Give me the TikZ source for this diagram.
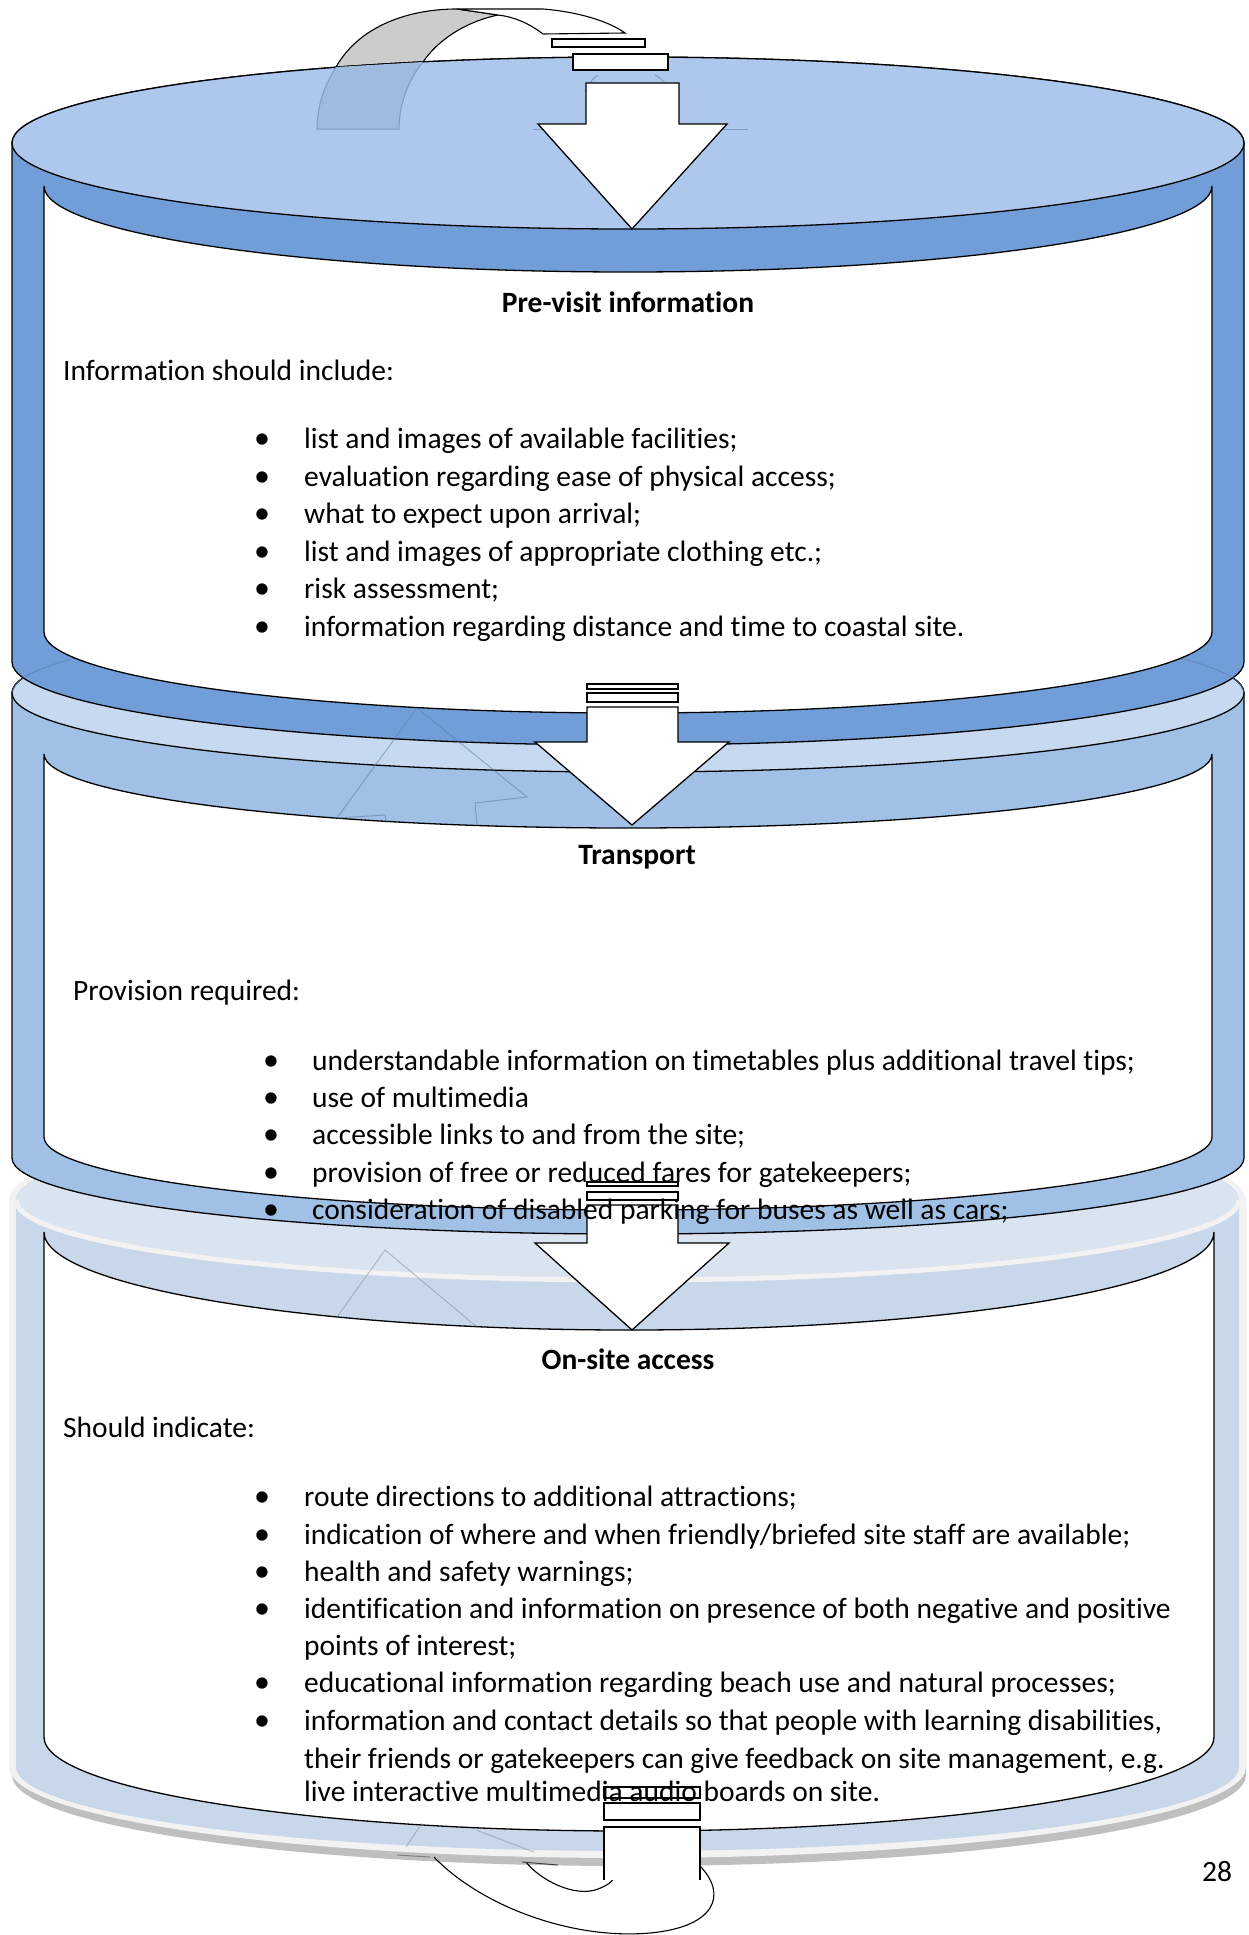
\documentclass[tikz,border=0pt]{standalone}
\usepackage{fontspec}
\setmainfont[RawFeature={-liga}]{Carlito}
\definecolor{lOneTop}{HTML}{ADC8EC}
\definecolor{lOneBody}{HTML}{719ED8}
\definecolor{lTwoTop}{HTML}{C6D9F1}
\definecolor{lTwoBody}{HTML}{A0C0E6}
\definecolor{lThreeBody}{HTML}{C8D7EA}
\definecolor{lThreeTop}{HTML}{DAE3F0}
\definecolor{rimc}{HTML}{F2F2F2}
\definecolor{shadowc}{HTML}{BFBFBF}
\definecolor{arcgray}{HTML}{CCCCCC}
\definecolor{ghostline}{HTML}{5F7DA8}
\definecolor{ghostfill}{HTML}{9FBCE0}
\begin{document}
\begin{tikzpicture}[x=1pt,y=-1pt,line join=miter,
  outl/.style={draw=black,line width=1.3pt},
  thinl/.style={draw=black,line width=1.1pt},
  ghost/.style={draw=ghostline,draw opacity=0.55,line width=1pt},
  ghostgray/.style={draw=gray,draw opacity=0.45,line width=1pt},
  txt/.style={anchor=base west,inner sep=0pt,font=\fontsize{29.5}{37}\selectfont},
  ttl/.style={anchor=base,inner sep=0pt,font=\fontsize{29.5}{37}\selectfont\bfseries},
  bul/.style={anchor=base,inner sep=0pt,font=\fontsize{32}{37}\selectfont}]
\fill[white] (0,0) rectangle (1249,1935);
\useasboundingbox (0,0) rectangle (1249,1935);

% ---------------- Layer 3 (On-site access) ----------------
\path[fill=shadowc] (12,1207) -- (12,1775)
  arc[start angle=180,end angle=360,x radius=617pt,y radius=91pt]
  -- (1246,1207) arc[start angle=0,end angle=180,x radius=617pt,y radius=90pt] -- cycle;
\path[fill=rimc] (9,1200) -- (9,1767)
  arc[start angle=180,end angle=360,x radius=618.5pt,y radius=91pt]
  -- (1246,1200) arc[start angle=0,end angle=180,x radius=618.5pt,y radius=90pt] -- cycle;
\path[fill=lThreeBody] (16,1200) -- (16,1767)
  arc[start angle=180,end angle=360,x radius=611.5pt,y radius=84pt]
  -- (1239,1200) arc[start angle=0,end angle=180,x radius=611.5pt,y radius=83pt] -- cycle;
\path[fill=lThreeTop] (627.5,1200) ellipse[x radius=611.5pt,y radius=80pt];
\draw[rimc,line width=5pt] (16,1200) arc[start angle=180,end angle=360,x radius=611.5pt,y radius=80pt];
\path[fill=white,outl] (44,1232) -- (44,1737)
  arc[start angle=180,end angle=360,x radius=585pt,y radius=94pt]
  -- (1214,1232) arc[start angle=360,end angle=180,x radius=585pt,y radius=98pt] -- cycle;

% ---------------- Layer 2 (Transport) ----------------
\path[fill=lTwoBody,outl] (12,693) -- (12,1158)
  arc[start angle=180,end angle=360,x radius=616pt,y radius=76pt]
  -- (1244,693) arc[start angle=0,end angle=180,x radius=616pt,y radius=79pt] -- cycle;
\path[fill=lTwoTop,outl] (628,693) ellipse[x radius=616pt,y radius=79pt];
\path[fill=white,outl] (44,754) -- (44,1137)
  arc[start angle=180,end angle=360,x radius=584pt,y radius=73pt]
  -- (1212,754) arc[start angle=360,end angle=180,x radius=584pt,y radius=74pt] -- cycle;

% ---------------- top curved arrow (behind layer 1 top) ----------------
\path[fill=arcgray,thinl] (336,67) .. controls (360,25) and (410,9) .. (457,9)
  -- (498,15) .. controls (465,22) and (438,40) .. (423,62) -- cycle;
\path[fill=white,thinl] (457,9) -- (543,9) .. controls (580,12) and (610,22) .. (625,33)
  -- (543,34) .. controls (530,24) and (515,17) .. (498,15) -- cycle;

% ---------------- Layer 1 (Pre-visit information) ----------------
\path[fill=lOneBody,outl] (12,143) -- (12,662)
  arc[start angle=180,end angle=360,x radius=616pt,y radius=83pt]
  -- (1244,143) arc[start angle=0,end angle=180,x radius=616pt,y radius=86pt] -- cycle;
\path[fill=lOneTop,outl] (628,143) ellipse[x radius=616pt,y radius=86pt];
% ghost of layer 2 top seen through layer 1 band
\draw[draw=ghostline,draw opacity=0.6,line width=1pt] (12,693) arc[start angle=180,end angle=0,x radius=616pt,y radius=79pt];
\path[fill=white,outl] (44,186) -- (44,632)
  arc[start angle=180,end angle=360,x radius=584pt,y radius=81pt]
  -- (1212,186) arc[start angle=360,end angle=180,x radius=584pt,y radius=86pt] -- cycle;

% ghost shapes inside top ellipse
\path[fill=ghostfill,ghost] (336,67) .. controls (323,88) and (317,108) .. (317,129)
  -- (399,129) .. controls (399,105) and (408,80) .. (423,62);
\draw[ghost] (533,129) -- (748,129);
\draw[ghost] (585,92) .. controls (588,84) and (592,79) .. (598,75);
\draw[ghost] (655,75) .. controls (662,79) and (667,84) .. (670,92);

% ghost shapes in layer 2 band
\draw[ghost] (337,818) -- (417,708) -- (527,797) -- (475,803) -- (477,825);
\draw[ghost] (337,818) -- (385,815) -- (386,823);
% ghost shapes in layer 3 band
\draw[ghostgray] (337,1317) -- (385,1250) -- (477,1327);
% ghost shapes in layer 3 bottom band
\draw[ghostgray] (406,1847) -- (422,1823);
\draw[ghostgray] (476,1830) -- (534,1852);

% ---------------- arrows ----------------
\path[fill=white,thinl] (552,39) rectangle (645,47);
\path[fill=white,thinl] (573,54) rectangle (668,70);
\path[fill=white,outl] (586,83) -- (679,83) -- (679,124) -- (727,124) -- (632,229)
  -- (538,124) -- (586,124) -- cycle;

\path[fill=white,thinl] (587,684) rectangle (678,689);
\path[fill=white,thinl] (587,693) rectangle (678,702);
\path[fill=white,outl] (587,707) -- (678,707) -- (678,742) -- (729,742) -- (632,825)
  -- (535,742) -- (587,742) -- cycle;

\path[fill=white,thinl] (587,1182) rectangle (678,1186);
\path[fill=white,thinl] (587,1192) rectangle (678,1200);
\path[fill=white,outl] (587,1205) -- (678,1205) -- (678,1243) -- (729,1243) -- (632,1330)
  -- (535,1243) -- (587,1243) -- cycle;

% bottom broken U-turn arrow
\draw[thinl] (434,1857) .. controls (480,1905) and (570,1940) .. (650,1933)
  .. controls (715,1927) and (728,1895) .. (700,1866);
\draw[thinl] (526,1862) .. controls (540,1880) and (575,1898) .. (598,1889)
  .. controls (606,1886) and (612,1882) .. (614,1878);
\draw[gray,line width=1pt] (397,1855) -- (430,1857);
\draw[darkgray,line width=1pt] (522,1862) -- (558,1865);
\path[fill=white,thinl] (604,1787) rectangle (700,1798);
\path[fill=white,thinl] (604,1803) rectangle (700,1820);
\path[fill=white] (604,1827) rectangle (700,1880);
\draw[thinl] (604,1880) -- (604,1827) -- (700,1827) -- (700,1880);

\begin{scope}[yshift=-2.5pt]
% ---------------- texts: layer 1 ----------------
\node[ttl] (t1title) at (628,310) {Pre-visit information};
\node[txt] (t1intro) at (63,378) {Information should include:};
\node[bul] (b11) at (262,446) {•};
\node[txt] (t11) at (304,446) {list and images of available facilities;};
\node[bul] (b12) at (262,483.5) {•};
\node[txt] (t12) at (304,483.5) {evaluation regarding ease of physical access;};
\node[bul] (b13) at (262,521) {•};
\node[txt] (t13) at (304,521) {what to expect upon arrival;};
\node[bul] (b14) at (262,558.5) {•};
\node[txt] (t14) at (304,558.5) {list and images of appropriate clothing etc.;};
\node[bul] (b15) at (262,596) {•};
\node[txt] (t15) at (304,596) {risk assessment;};
\node[bul] (b16) at (262,633.5) {•};
\node[txt] (t16) at (304,633.5) {information regarding distance and time to coastal site.};

% ---------------- texts: layer 2 ----------------
\node[ttl] (t2title) at (637,862) {Transport};
\node[txt] (t2intro) at (73,998) {Provision required:};
\node[bul] (b21) at (271,1068) {•};
\node[txt] (t21) at (312,1068) {understandable information on timetables plus additional travel tips;};
\node[bul] (b22) at (271,1105) {•};
\node[txt] (t22) at (312,1105) {use of multimedia};
\node[bul] (b23) at (271,1142) {•};
\node[txt] (t23) at (312,1142) {accessible links to and from the site;};
\node[bul] (b24) at (271,1180) {•};
\node[txt] (t24) at (312,1180) {provision of free or reduced fares for gatekeepers;};
\node[bul] (b25) at (271,1217) {•};
\node[txt] (t25) at (312,1217) {consideration of disabled parking for buses as well as cars;};

% ---------------- texts: layer 3 ----------------
\node[ttl] (t3title) at (628,1367) {On-site access};
\node[txt] (t3intro) at (63,1435) {Should indicate:};
\node[bul] (b31) at (262,1504) {•};
\node[txt] (t31) at (304,1504) {route directions to additional attractions;};
\node[bul] (b32) at (262,1542) {•};
\node[txt] (t32) at (304,1542) {indication of where and when friendly/briefed site staff are available;};
\node[bul] (b33) at (262,1579) {•};
\node[txt] (t33) at (304,1579) {health and safety warnings;};
\node[bul] (b34) at (262,1616) {•};
\node[txt] (t34) at (304,1616) {identification and information on presence of both negative and positive};
\node[txt] (t34b) at (304,1653) {points of interest;};
\node[bul] (b35) at (262,1690) {•};
\node[txt] (t35) at (304,1690) {educational information regarding beach use and natural processes;};
\node[bul] (b36) at (262,1728) {•};
\node[txt] (t36) at (304,1728) {information and contact details so that people with learning disabilities,};
\node[txt] (t36b) at (304,1766) {their friends or gatekeepers can give feedback on site management, e.g.};
\node[txt] (t36c) at (304,1799) {live interactive multimedia audio boards on site.};

\node[anchor=base,inner sep=0pt,font=\fontsize{29.5}{37}\selectfont] (pnum) at (1217,1879) {28};
\end{scope}
\end{tikzpicture}
\end{document}
